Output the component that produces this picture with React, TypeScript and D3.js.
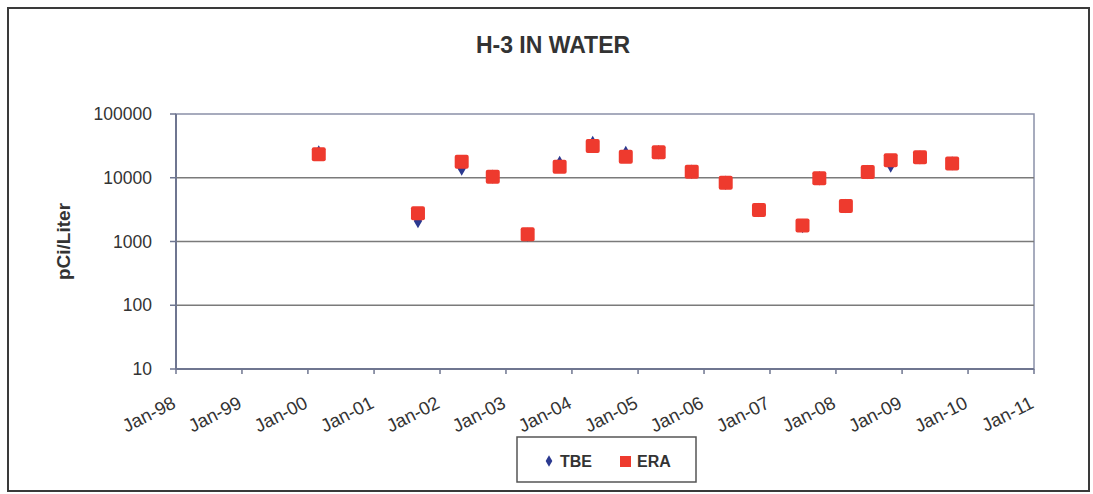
import React from "react";
import * as d3 from "d3";

const dates = [
  "2000-03-01", "2001-09-01", "2002-05-01", "2002-10-20", "2003-05-01",
  "2003-10-25", "2004-04-25", "2004-10-25", "2005-04-25", "2005-10-25",
  "2006-05-01", "2006-11-01", "2007-06-30", "2007-10-01", "2008-02-25",
  "2008-06-25", "2008-10-30", "2009-04-10", "2009-10-05",
];
const tbeValues = [
  25000, 2100, 14000, 10400, 1280, 17000, 35000, 24500, 25100, 12400,
  8360, 3120, 1750, 9800, 3600, 12300, 15500, 20900, 16800,
];
const eraValues = [
  23300, 2770, 17900, 10400, 1300, 14900, 31500, 21400, 25100, 12400,
  8360, 3120, 1790, 9800, 3600, 12300, 18900, 20900, 16800,
];
const yTicks = [10, 100, 1000, 10000, 100000];
const xTickYears = [1998, 1999, 2000, 2001, 2002, 2003, 2004, 2005, 2006, 2007, 2008, 2009, 2010, 2011];
const seriesNames = ["TBE", "ERA"];

const W = 1093;
const H = 494;
const plot = { left: 176, right: 1034, top: 114, bottom: 369 };
const textColor = "#333333";
const axisColor = "#6f7690";
const gridColor = "#7a7a7a";
const tbeColor = "#2b3990";
const eraColor = "#ee3a2e";

export default function App() {
  const x = d3
    .scaleTime()
    .domain([new Date(1998, 0, 1), new Date(2011, 0, 1)])
    .range([plot.left, plot.right]);
  const y = d3.scaleLog().domain([10, 100000]).range([plot.bottom, plot.top]);
  const parse = d3.timeParse("%Y-%m-%d");
  const pts = dates.map((d, i) => ({ date: parse(d) as Date, tbe: tbeValues[i], era: eraValues[i] }));
  const fmt = d3.timeFormat("%b-%y");
  const diamond = d3.symbol().type(d3.symbolDiamond).size(60)();

  return (
    <svg
      width={W}
      height={H}
      style={{ position: "fixed", left: 0, top: 0, background: "#fff" }}
      fontFamily="'Liberation Sans', Arial, sans-serif"
    >
      <rect x={0} y={0} width={W} height={H} fill="#fff" />
      <rect x={8} y={8} width={1081} height={483} fill="none" stroke="#3a3a3a" strokeWidth={2} />
      <text x={553} y={53} textAnchor="middle" fontSize={23} fontWeight="bold" fill={textColor}>
        H-3 IN WATER
      </text>
      <text
        transform={`translate(70,${(plot.top + plot.bottom) / 2}) rotate(-90)`}
        textAnchor="middle"
        fontSize={19}
        fontWeight="bold"
        fill={textColor}
      >
        pCi/Liter
      </text>
      {/* plot border */}
      <rect
        x={plot.left}
        y={plot.top}
        width={plot.right - plot.left}
        height={plot.bottom - plot.top}
        fill="none"
        stroke="#8a90a8"
        strokeWidth={1.5}
      />
      {/* gridlines */}
      {yTicks.slice(1, -1).map((t) => (
        <line key={t} x1={plot.left} x2={plot.right} y1={y(t)} y2={y(t)} stroke={gridColor} strokeWidth={1.5} />
      ))}
      {/* y axis */}
      <line x1={plot.left} x2={plot.left} y1={plot.top} y2={plot.bottom} stroke={axisColor} strokeWidth={2} />
      {yTicks.map((t) => (
        <g key={t}>
          <line x1={plot.left - 6} x2={plot.left} y1={y(t)} y2={y(t)} stroke={axisColor} strokeWidth={1.5} />
          <text x={152} y={y(t) + 6} textAnchor="end" fontSize={17.5} fill={textColor}>
            {t}
          </text>
        </g>
      ))}
      {/* x axis */}
      <line x1={plot.left} x2={plot.right} y1={plot.bottom} y2={plot.bottom} stroke={axisColor} strokeWidth={2} />
      {xTickYears.map((yr) => {
        const d = new Date(yr, 0, 1);
        const px = x(d);
        return (
          <g key={yr}>
            <line x1={px} x2={px} y1={plot.bottom} y2={plot.bottom + 5} stroke={axisColor} strokeWidth={1.5} />
            <text
              transform={`translate(${px + 1},${407}) rotate(-27)`}
              textAnchor="end"
              fontSize={18.5}
              fill={textColor}
            >
              {fmt(d)}
            </text>
          </g>
        );
      })}
      {/* TBE */}
      {pts.map((p, i) => (
        <path
          key={"t" + i}
          d={diamond as string}
          transform={`translate(${x(p.date)},${y(p.tbe)})`}
          fill={tbeColor}
        />
      ))}
      {/* ERA */}
      {pts.map((p, i) => (
        <rect
          key={"e" + i}
          x={x(p.date) - 7}
          y={y(p.era) - 7}
          width={14}
          height={14}
          rx={2}
          fill={eraColor}
        />
      ))}
      {/* legend */}
      <rect x={517} y={437} width={179} height={45} fill="#fff" stroke="#555" strokeWidth={1.5} />
      <path d={diamond as string} transform="translate(549,461) scale(0.8)" fill={tbeColor} />
      <text x={560} y={467} fontSize={16} fontWeight="bold" fill={textColor}>
        {seriesNames[0]}
      </text>
      <rect x={620} y={456} width={11} height={11} fill={eraColor} />
      <text x={637} y={467} fontSize={16} fontWeight="bold" fill={textColor}>
        {seriesNames[1]}
      </text>
    </svg>
  );
}
